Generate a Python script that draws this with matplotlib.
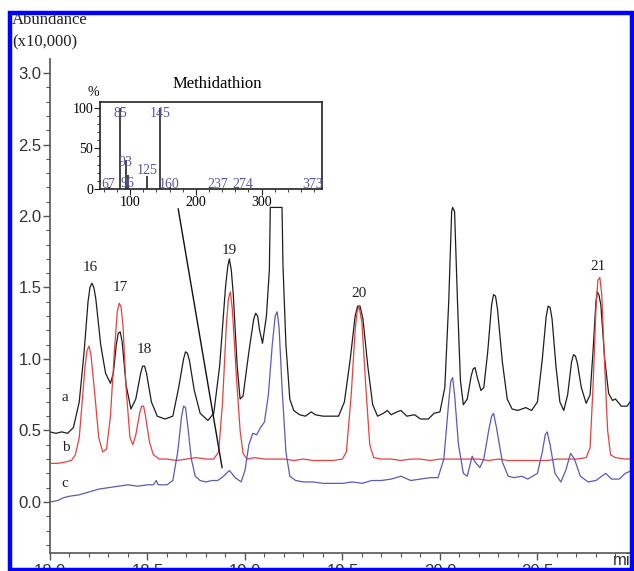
import numpy as np
import matplotlib
matplotlib.use("Agg")
import matplotlib.pyplot as plt
from matplotlib.patches import Rectangle
from matplotlib.ticker import MultipleLocator, FormatStrFormatter

# trace a (black)
t_a = [18.00, 18.03, 18.06, 18.09, 18.12, 18.15, 18.175, 18.195, 18.205, 18.215,
       18.225, 18.235, 18.26, 18.285, 18.31, 18.325, 18.34, 18.35, 18.36, 18.37,
       18.39, 18.415, 18.44, 18.465, 18.475, 18.485, 18.495, 18.52, 18.55, 18.59,
       18.63, 18.66, 18.685, 18.695, 18.705, 18.715, 18.74, 18.77, 18.81, 18.84,
       18.87, 18.90, 18.912, 18.92, 18.93, 18.94, 18.96, 18.975, 18.99, 19.02,
       19.045, 19.055, 19.065, 19.075, 19.09, 19.11, 19.125, 19.13, 19.19, 19.195,
       19.21, 19.23, 19.25, 19.28, 19.31, 19.34, 19.36, 19.40, 19.44, 19.48,
       19.51, 19.54, 19.565, 19.578, 19.59, 19.605, 19.63, 19.655, 19.68, 19.71,
       19.73, 19.75, 19.78, 19.80, 19.83, 19.87, 19.90, 19.94, 19.97, 20.00,
       20.025, 20.045, 20.06, 20.065, 20.075, 20.09, 20.105, 20.12, 20.14, 20.16,
       20.17, 20.18, 20.19, 20.21, 20.225, 20.245, 20.265, 20.275, 20.285, 20.295,
       20.32, 20.345, 20.37, 20.40, 20.44, 20.47, 20.50, 20.525, 20.545, 20.555,
       20.565, 20.575, 20.595, 20.615, 20.635, 20.655, 20.675, 20.685, 20.695, 20.705,
       20.725, 20.75, 20.77, 20.785, 20.80, 20.807, 20.815, 20.825, 20.845, 20.865,
       20.885, 20.90, 20.93, 20.96, 20.985]
v_a = [0.49, 0.48, 0.49, 0.48, 0.52, 0.70, 1.05, 1.40, 1.50, 1.53,
       1.50, 1.42, 1.10, 0.90, 0.83, 0.90, 1.10, 1.18, 1.19, 1.12,
       0.82, 0.65, 0.72, 0.90, 0.95, 0.95, 0.90, 0.70, 0.60, 0.58,
       0.60, 0.80, 1.00, 1.05, 1.04, 0.99, 0.78, 0.62, 0.57, 0.62,
       0.95, 1.50, 1.65, 1.70, 1.62, 1.45, 0.95, 0.72, 0.74, 1.05,
       1.28, 1.32, 1.30, 1.20, 1.11, 1.30, 1.62, 2.06, 2.06, 1.65,
       1.10, 0.72, 0.64, 0.61, 0.60, 0.63, 0.61, 0.60, 0.60, 0.60,
       0.70, 1.00, 1.30, 1.37, 1.37, 1.28, 0.95, 0.68, 0.60, 0.62,
       0.64, 0.61, 0.63, 0.64, 0.60, 0.61, 0.58, 0.58, 0.62, 0.63,
       0.80, 1.40, 2.03, 2.06, 2.03, 1.40, 0.85, 0.68, 0.72, 0.88,
       0.93, 0.94, 0.88, 0.78, 0.80, 1.05, 1.38, 1.45, 1.44, 1.35,
       0.98, 0.72, 0.65, 0.64, 0.66, 0.64, 0.70, 1.00, 1.30, 1.37,
       1.36, 1.28, 0.95, 0.70, 0.64, 0.75, 0.98, 1.03, 1.02, 0.97,
       0.80, 0.69, 0.75, 1.05, 1.40, 1.47, 1.45, 1.38, 1.00, 0.76,
       0.71, 0.72, 0.67, 0.67, 0.72]

# trace b (red)
t_b = [18.00, 18.04, 18.08, 18.11, 18.13, 18.15, 18.165, 18.18, 18.19, 18.2,
       18.21, 18.23, 18.25, 18.27, 18.29, 18.31, 18.33, 18.345, 18.355, 18.365,
       18.375, 18.39, 18.41, 18.425, 18.44, 18.46, 18.47, 18.48, 18.49, 18.51,
       18.53, 18.56, 18.60, 18.65, 18.70, 18.75, 18.80, 18.84, 18.865, 18.885,
       18.905, 18.915, 18.925, 18.935, 18.955, 18.975, 18.99, 19.01, 19.05, 19.10,
       19.15, 19.20, 19.25, 19.30, 19.35, 19.40, 19.45, 19.50, 19.52, 19.545,
       19.565, 19.575, 19.585, 19.60, 19.62, 19.64, 19.66, 19.70, 19.75, 19.80,
       19.85, 19.90, 19.95, 20.00, 20.05, 20.10, 20.15, 20.20, 20.25, 20.30,
       20.35, 20.40, 20.45, 20.50, 20.55, 20.60, 20.65, 20.70, 20.75, 20.77,
       20.785, 20.80, 20.81, 20.82, 20.83, 20.845, 20.86, 20.875, 20.90, 20.95,
       20.985]
v_b = [0.27, 0.27, 0.28, 0.29, 0.33, 0.45, 0.70, 0.95, 1.06, 1.09,
       1.03, 0.75, 0.45, 0.35, 0.37, 0.60, 1.05, 1.33, 1.39, 1.36,
       1.22, 0.80, 0.45, 0.40, 0.47, 0.62, 0.67, 0.67, 0.60, 0.42,
       0.33, 0.30, 0.30, 0.29, 0.30, 0.31, 0.30, 0.30, 0.35, 0.70,
       1.25, 1.42, 1.47, 1.35, 0.90, 0.50, 0.34, 0.30, 0.31, 0.30,
       0.30, 0.30, 0.29, 0.30, 0.29, 0.29, 0.29, 0.30, 0.35, 0.75,
       1.20, 1.33, 1.37, 1.25, 0.80, 0.40, 0.31, 0.30, 0.30, 0.29,
       0.30, 0.30, 0.29, 0.30, 0.30, 0.30, 0.30, 0.30, 0.29, 0.30,
       0.29, 0.29, 0.29, 0.29, 0.29, 0.30, 0.30, 0.30, 0.31, 0.38,
       0.80, 1.35, 1.55, 1.57, 1.45, 0.95, 0.50, 0.33, 0.31, 0.30,
       0.30]

# trace c (blue)
t_c = [18.00, 18.04, 18.07, 18.10, 18.15, 18.20, 18.25, 18.30, 18.35, 18.40,
       18.45, 18.50, 18.53, 18.545, 18.555, 18.60, 18.63, 18.655, 18.675, 18.685,
       18.695, 18.705, 18.725, 18.745, 18.77, 18.80, 18.83, 18.86, 18.89, 18.92,
       18.95, 18.98, 19.00, 19.02, 19.04, 19.06, 19.08, 19.10, 19.12, 19.14,
       19.155, 19.165, 19.175, 19.19, 19.21, 19.23, 19.26, 19.30, 19.35, 19.40,
       19.45, 19.50, 19.55, 19.60, 19.65, 19.70, 19.75, 19.80, 19.85, 19.90,
       19.95, 19.99, 20.02, 20.045, 20.055, 20.065, 20.075, 20.095, 20.12, 20.14,
       20.165, 20.18, 20.205, 20.225, 20.25, 20.265, 20.275, 20.29, 20.32, 20.35,
       20.38, 20.42, 20.45, 20.50, 20.525, 20.54, 20.55, 20.565, 20.59, 20.62,
       20.645, 20.67, 20.69, 20.72, 20.76, 20.80, 20.83, 20.85, 20.88, 20.92,
       20.95, 20.985]
v_c = [0.00, 0.01, 0.03, 0.04, 0.05, 0.07, 0.09, 0.10, 0.11, 0.12,
       0.11, 0.12, 0.12, 0.15, 0.12, 0.12, 0.15, 0.35, 0.60, 0.67,
       0.66, 0.55, 0.30, 0.18, 0.15, 0.14, 0.15, 0.15, 0.18, 0.22,
       0.17, 0.14, 0.22, 0.40, 0.48, 0.47, 0.52, 0.56, 0.75, 1.10,
       1.30, 1.33, 1.22, 0.80, 0.35, 0.18, 0.15, 0.14, 0.14, 0.13,
       0.13, 0.13, 0.14, 0.13, 0.15, 0.15, 0.16, 0.18, 0.15, 0.16,
       0.17, 0.17, 0.30, 0.70, 0.84, 0.87, 0.75, 0.40, 0.20, 0.18,
       0.32, 0.28, 0.24, 0.30, 0.50, 0.60, 0.62, 0.52, 0.28, 0.18,
       0.17, 0.18, 0.16, 0.20, 0.35, 0.47, 0.49, 0.40, 0.20, 0.14,
       0.22, 0.34, 0.30, 0.18, 0.14, 0.15, 0.18, 0.20, 0.16, 0.16,
       0.20, 0.22]

# peak numbers
peak_names = ["16", "17", "18", "19", "20", "21"]
peak_t = [18.205, 18.36, 18.485, 18.92, 19.585, 20.81]
peak_y = [1.643, 1.497, 1.063, 1.762, 1.46, 1.65]

# inset mass spectrum of methidathion
ms_mz = [67, 85, 93, 96, 125, 145, 160, 237, 274, 373]
ms_int = [3, 100, 36, 17, 16, 100, 3, 1, 1, 1]
ms_lab_x = [66, 85, 93, 96, 126, 145, 159, 234, 272, 377]
ms_lab_y = [6, 93, 32, 7, 23, 93, 6, 6, 6, 6]

serif = "Liberation Serif"
sans = "Liberation Sans"
axcol = "#555555"

fig = plt.figure(figsize=(6.34, 5.71), dpi=100)
ax = fig.add_axes([50 / 634, 18 / 571, 582 / 634, 494 / 571])

ax.plot(t_a, v_a, color="#1e1e1e", lw=0.9)
ax.plot(t_b, v_b, color="#e8403f", lw=0.9)
ax.plot(t_c, v_c, color="#5a5abb", lw=0.9)

ax.set_xlim(18.0, 20.985)
ax.set_ylim(-0.357, 3.098)
for s in ["top", "right"]:
    ax.spines[s].set_visible(False)
for s in ["left", "bottom"]:
    ax.spines[s].set_color(axcol)
    ax.spines[s].set_linewidth(1.2)

ax.set_yticks([0.0, 0.5, 1.0, 1.5, 2.0, 2.5, 3.0])
ax.yaxis.set_minor_locator(MultipleLocator(0.1))
ax.set_xticks([18.0, 18.5, 19.0, 19.5, 20.0, 20.5])
ax.xaxis.set_minor_locator(MultipleLocator(0.1))
ax.xaxis.set_major_formatter(FormatStrFormatter("%.1f"))
ax.yaxis.set_major_formatter(FormatStrFormatter("%.1f"))
ax.tick_params(which="major", length=5, width=1.0, color=axcol,
               labelsize=12, labelcolor="#333333")
ax.tick_params(which="minor", length=3, width=0.8, color=axcol)
ax.tick_params(axis="x", pad=3)
ax.tick_params(axis="y", pad=1)
for lab in ax.get_xticklabels() + ax.get_yticklabels():
    lab.set_fontfamily(sans)

ax.text(20.885, -0.357, "min", ha="left", va="top", fontsize=12,
        color="#333333", family=sans)

for name, x, y in zip(peak_names, peak_t, peak_y):
    ax.text(x, y, name, ha="center", va="center", fontsize=11,
            family=serif, color="#222222")

ax.text(18.06, 0.73, "a", fontsize=11, family=serif, va="center", color="#222222")
ax.text(18.06, 0.38, "b", fontsize=11, family=serif, va="center", color="#222222")
ax.text(18.06, 0.13, "c", fontsize=11, family=serif, va="center", color="#222222")

# pointer line from inset to peak
ax.annotate("", xy=(18.885, 0.22), xytext=(18.655, 2.07),
            arrowprops=dict(arrowstyle="-", color="#111111", lw=1.0))

# inset
ins = fig.add_axes([100 / 634, (571 - 189) / 571, 222 / 634, 87 / 571])
ins.vlines(ms_mz, 0, ms_int, color="#111111", lw=1.1)
for m, x, y in zip(ms_mz, ms_lab_x, ms_lab_y):
    ins.text(x, y, str(m), ha="center", va="center", fontsize=10,
             family=serif, color="#5656a6")
ins.set_xlim(54, 392)
ins.set_ylim(0, 107)
ins.set_xticks([100, 200, 300])
ins.set_yticks([0, 50, 100])
ins.xaxis.set_minor_locator(MultipleLocator(20))
ins.yaxis.set_minor_locator(MultipleLocator(10))
ins.tick_params(which="major", length=4, labelsize=10, color="#222222", pad=1)
ins.tick_params(which="minor", length=2, color="#222222")
for lab in ins.get_xticklabels() + ins.get_yticklabels():
    lab.set_fontfamily(serif)
for s in ins.spines.values():
    s.set_linewidth(1.2)
    s.set_color("#222222")
ins.set_title("Methidathion", fontsize=12, family=serif, pad=10, x=0.53)
ins.text(-0.03, 1.03, "%", transform=ins.transAxes, fontsize=10, family=serif,
         ha="center", va="bottom")

fig.text(12 / 634, 1 - 20 / 571, "Abundance", fontsize=12, family=serif,
         va="center", ha="left", color="#222222")
fig.text(12 / 634, 1 - 42 / 571, "(x10,000)", fontsize=12, family=serif,
         va="center", ha="left", color="#222222")

frame = Rectangle((10 / 634, 1.5 / 571), 621.5 / 634, 557 / 571,
                  transform=fig.transFigure, fill=False, edgecolor="#0000ff",
                  lw=3.2, zorder=20)
fig.add_artist(frame)

fig.savefig("out.png", dpi=100)
